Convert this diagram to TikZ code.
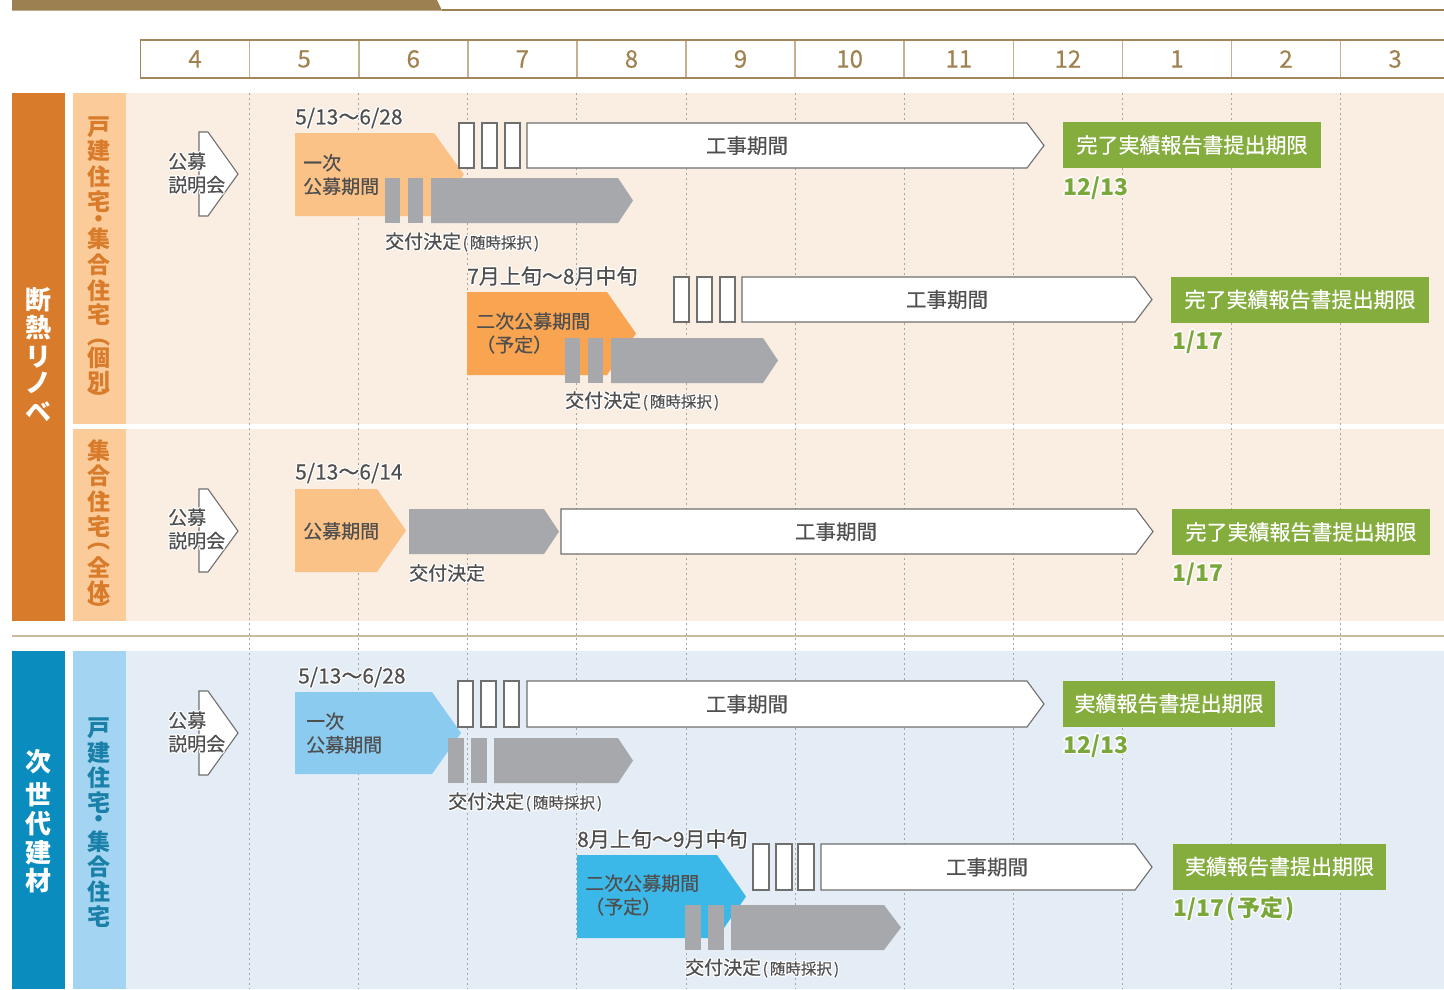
\documentclass[tikz,border=0pt]{standalone}
\usepackage{fontspec}
\setmainfont{Noto Sans CJK JP}
\newfontfamily\jpm{Noto Sans CJK JP}[FakeBold=0.4]
\definecolor{topbar}{HTML}{9C8052}
\definecolor{hdrline}{HTML}{A3875A}
\definecolor{hdrsep}{HTML}{C5B18E}
\definecolor{monthtxt}{HTML}{A08251}
\definecolor{dorange}{HTML}{D87B2A}
\definecolor{lorange}{HTML}{FBCB9A}
\definecolor{peach}{HTML}{FAEDE2}
\definecolor{orA}{HTML}{FBC288}
\definecolor{orB}{HTML}{F9A450}
\definecolor{barg}{HTML}{A7A8AB}
\definecolor{txtgray}{HTML}{4F4F4F}
\definecolor{boxline}{HTML}{6F6F6F}
\definecolor{greenA}{HTML}{84AD3E}
\definecolor{gtext}{HTML}{7AA73A}
\definecolor{dblue}{HTML}{0A8DBE}
\definecolor{lblue}{HTML}{A3D5F2}
\definecolor{bluebg}{HTML}{E4EDF5}
\definecolor{blA}{HTML}{8ACBEF}
\definecolor{blB}{HTML}{3CB8E8}
\definecolor{vbluetxt}{HTML}{1A80A8}
\definecolor{sepline}{HTML}{CBBB98}
\definecolor{gridc}{HTML}{A5A5A5}
\newcommand\hcp[3]{\rlap{\hspace*{#1}\raisebox{#2}{\color{white}#3}}}
\newcommand\halo[1]{\hcp{1.3pt}{0pt}{#1}\hcp{-1.3pt}{0pt}{#1}\hcp{0pt}{1.3pt}{#1}\hcp{0pt}{-1.3pt}{#1}\hcp{.9pt}{.9pt}{#1}\hcp{-.9pt}{.9pt}{#1}\hcp{.9pt}{-.9pt}{#1}\hcp{-.9pt}{-.9pt}{#1}#1}
\newcommand\penta[6]{\path[#1] (#2,#5) -- (#3,#5) -- (#4,{(#5+#6)/2}) -- (#3,#6) -- (#2,#6) -- cycle;}
\newcommand\smallp{\fontsize{15.5}{18}\selectfont}
\newcommand\zuiji{{\smallp\hspace{1.5pt}(\hspace{2pt}随時採択\hspace{2pt})}}
\tikzset{
 lbl/.style={inner sep=0pt, text=txtgray, font=\jpm\fontsize{19}{23.5}\selectfont, anchor=west, align=left},
 datelbl/.style={inner sep=0pt, text=txtgray, font=\jpm\fontsize{21}{25}\selectfont, anchor=west},
 gdate/.style={inner sep=0pt, text=gtext, font=\bfseries\fontsize{23}{27}\selectfont, anchor=west},
 gbox/.style={fill=greenA, text=white, font=\jpm\fontsize{21}{25}\selectfont, inner sep=0pt, minimum height=46pt},
 work/.style={inner sep=0pt, text=txtgray, font=\jpm\fontsize{20.5}{25}\selectfont},
 month/.style={text=monthtxt, font=\jpm\fontsize{24}{28}\selectfont, inner sep=0pt},
 vch/.style={inner sep=0pt, font=\bfseries\fontsize{23}{23}\selectfont},
 vbig/.style={inner sep=0pt, text=white, font=\bfseries\fontsize{26}{26}\selectfont},
 wbox/.style={fill=white, draw=boxline, line width=1.1pt},
 harrow/.style={fill=white, draw=boxline, line width=1.1pt},
 grid/.style={draw=gridc, line width=1pt, dash pattern=on 2pt off 3pt},
}
\begin{document}
\begin{tikzpicture}[x=1pt,y=-1pt]
\useasboundingbox (0,0) rectangle (1444,989);
% top bar
\fill[topbar] (12,-2) -- (436,-2) -- (442,10.5) -- (12,10.5) -- cycle;
\draw[topbar, line width=1.2pt] (442,10) -- (1444,10);
% month header
\foreach \k in {1,...,11} \draw[hdrsep, line width=1.6pt] ({140.5+109.1*\k},40) -- ({140.5+109.1*\k},78);
\draw[hdrline, line width=1.5pt] (1444,40) -- (140.5,40) -- (140.5,78) -- (1444,78);
\foreach \m [count=\i from 0] in {4,5,6,7,8,9,10,11,12,1,2,3}
  \node[month] (m\i) at ({140.5+109.1*(\i+0.5)},59) {\m};
% backgrounds
\fill[dorange] (12,93) rectangle (65,621);
\fill[lorange] (73,93) rectangle (126,424);
\fill[lorange] (73,429) rectangle (126,621);
\fill[peach] (126,93) rectangle (1444,424);
\fill[peach] (126,429) rectangle (1444,621);
\draw[sepline, line width=1.6pt] (12,636) -- (1444,636);
\fill[dblue] (12,651) rectangle (65,989);
\fill[lblue] (73,651) rectangle (126,989);
\fill[bluebg] (126,651) rectangle (1444,989);
% grid
\foreach \k in {1,...,11} \draw[grid] ({140.5+109.1*\k},93) -- ({140.5+109.1*\k},989);
% vertical labels
\foreach \c/\y [count=\i] in {断/300,熱/328,リ/357,ノ/383,ベ/412}
  \node[vbig] (ta\i) at (38.5,\y) {\c};
\foreach \c/\y [count=\i] in {戸/127,建/151,住/177,宅/202,・/222,集/239,合/265,住/291,宅/315,︵/343,個/358,別/382,︶/398}
  \node[vch, text=dorange] (tb\i) at (98.5,\y) {\c};
\foreach \c/\y [count=\i] in {集/451,合/476,住/502,宅/527,︵/547,全/567,体/592,︶/609}
  \node[vch, text=dorange] (tc\i) at (98.5,\y) {\c};
\foreach \c/\y [count=\i] in {次/762,世/795,代/824,建/853,材/881}
  \node[vbig] (td\i) at (38.5,\y) {\c};
\foreach \c/\y [count=\i] in {戸/728,建/753,住/778,宅/803,・/822,集/842,合/867,住/892,宅/917}
  \node[vch, text=vbluetxt] (te\i) at (98.5,\y) {\c};

% ===== 公募説明会 arrows =====
\path[harrow] (199,132) -- (208,132) -- (238,174) -- (208,216) -- (199,216) -- cycle;
\node[lbl] (sa) at (168,173) {\halo{公募}\\\halo{説明会}};
\path[harrow] (199,489) -- (208,489) -- (238,531) -- (208,572) -- (199,572) -- cycle;
\node[lbl] (sb) at (168,529) {\halo{公募}\\\halo{説明会}};
\path[harrow] (199,691) -- (208,691) -- (238,733) -- (208,775) -- (199,775) -- cycle;
\node[lbl] (sc) at (168,732) {\halo{公募}\\\halo{説明会}};

% ===== Row A1 =====
\node[datelbl] (dA1) at (295,118) {\halo{5/13〜6/28}};
\penta{fill=orA}{295}{434}{464}{133}{216}
\node[lbl] (pA1) at (303,174.5) {一次\\公募期間};
\foreach \x in {459,482,505} \path[wbox] (\x,123) rectangle ++(15,45);
\penta{harrow}{527}{1027}{1044}{123}{168}
\node[work] (kA1) at (747,145.5) {工事期間};
\fill[barg] (385,178) rectangle (400,223);
\fill[barg] (408,178) rectangle (423,223);
\penta{fill=barg}{431}{618}{633}{178}{223}
\node[lbl] (fA1) at (385,242) {\halo{交付決定\zuiji}};
\node[gbox, minimum width=258pt] (gA1) at (1192,145) {完了実績報告書提出期限};
\node[gdate] (eA1) at (1063,188) {\halo{12/13}};

% ===== Row A2 =====
\node[datelbl] (dA2) at (467,276) {\halo{7月上旬〜8月中旬}};
\penta{fill=orB}{467}{607}{636}{292}{375}
\node[lbl] (pA2) at (476,333) {二次公募期間\\（予定）};
\foreach \x in {674,697,720} \path[wbox] (\x,277) rectangle ++(15,45);
\penta{harrow}{742}{1135}{1152}{277}{322}
\node[work] (kA2) at (947,299.5) {工事期間};
\fill[barg] (565,338) rectangle (580,383);
\fill[barg] (588,338) rectangle (603,383);
\penta{fill=barg}{611}{763}{778}{338}{383}
\node[lbl] (fA2) at (565,401) {\halo{交付決定\zuiji}};
\node[gbox, minimum width=258pt] (gA2) at (1300,299.5) {完了実績報告書提出期限};
\node[gdate] (eA2) at (1172,342) {\halo{1/17}};

% ===== Row B =====
\node[datelbl] (dB) at (295,473) {\halo{5/13〜6/14}};
\penta{fill=orA}{295}{377}{406}{489}{572}
\node[lbl] (pB) at (303,531) {公募期間};
\penta{fill=barg}{409}{544}{559}{509}{554}
\node[lbl] (fB) at (409,573) {\halo{交付決定}};
\penta{harrow}{561}{1136}{1153}{509}{554}
\node[work] (kB) at (836,531.5) {工事期間};
\node[gbox, minimum width=258pt] (gB) at (1301,532) {完了実績報告書提出期限};
\node[gdate] (eB) at (1172,574) {\halo{1/17}};

% ===== Row C1 =====
\node[datelbl] (dC1) at (298,677) {\halo{5/13〜6/28}};
\penta{fill=blA}{295}{432}{461}{692}{774}
\node[lbl] (pC1) at (306,733) {一次\\公募期間};
\foreach \x in {458,481,504} \path[wbox] (\x,681) rectangle ++(15,46);
\penta{harrow}{527}{1027}{1044}{681}{727}
\node[work] (kC1) at (747,704) {工事期間};
\fill[barg] (448,738) rectangle (464,783);
\fill[barg] (471,738) rectangle (487,783);
\penta{fill=barg}{494}{618}{633}{738}{783}
\node[lbl] (fC1) at (448,802) {\halo{交付決定\zuiji}};
\node[gbox, minimum width=212pt] (gC1) at (1169,703.5) {実績報告書提出期限};
\node[gdate] (eC1) at (1063,746) {\halo{12/13}};

% ===== Row C2 =====
\node[datelbl] (dC2) at (577,839) {\halo{8月上旬〜9月中旬}};
\penta{fill=blB}{577}{717}{746}{855}{938}
\node[lbl] (pC2) at (585,895) {二次公募期間\\（予定）};
\foreach \x in {753,776,798} \path[wbox] (\x,844) rectangle ++(16,46);
\penta{harrow}{821}{1135}{1152}{844}{890}
\node[work] (kC2) at (987,867) {工事期間};
\fill[barg] (685,905) rectangle (701,950);
\fill[barg] (708,905) rectangle (724,950);
\penta{fill=barg}{731}{884}{901}{905}{950}
\node[lbl] (fC2) at (685,968) {\halo{交付決定\zuiji}};
\node[gbox, minimum width=213pt] (gC2) at (1279.5,866.5) {実績報告書提出期限};
\node[gdate] (eC2) at (1173,909) {\halo{1/17\hspace{2pt}(\hspace{2pt}予定\hspace{2pt})}};
\end{tikzpicture}
\end{document}
